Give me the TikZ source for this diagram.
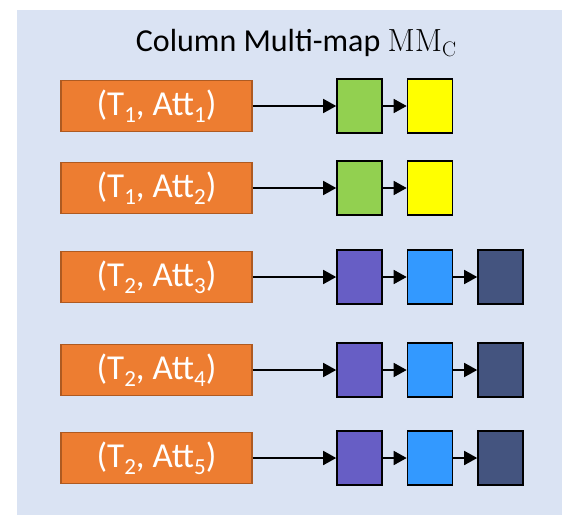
\documentclass[tikz,border=0pt]{standalone}
\usepackage{fontspec}
\setmainfont{Carlito}
\newfontfamily\lmfont{Latin Modern Roman}
\usetikzlibrary{arrows.meta}
\definecolor{panelbg}{HTML}{DAE3F3}
\definecolor{keyorange}{HTML}{ED7D31}
\definecolor{keyedge}{HTML}{AE5A21}
\definecolor{valgreen}{HTML}{92D050}
\definecolor{valyellow}{HTML}{FFFF00}
\definecolor{valpurple}{HTML}{675EC5}
\definecolor{valblue}{HTML}{3399FF}
\definecolor{valnavy}{HTML}{44547F}
\newcommand{\lowidx}[1]{\raisebox{-0.4ex}{\fontsize{23}{23}\selectfont #1}}
\tikzset{
  keybox/.style={draw=keyedge, line width=1.2pt, fill=keyorange, minimum width=191pt,
    minimum height=51pt, inner sep=0pt, text=white, font=\fontsize{35}{35}\selectfont},
  valbox/.style={draw=black, line width=1.6pt, minimum width=45pt, minimum height=54pt, inner sep=0pt},
  link/.style={line width=1.6pt, -{Triangle[length=13pt,width=14pt]}}
}
\begin{document}
\begin{tikzpicture}[x=1pt,y=-1pt]
\useasboundingbox (0,0) rectangle (562,515);
\fill[panelbg] (17,10) rectangle (562,515);
\node (title) at (296,43) {\fontsize{32}{32}\selectfont Column Multi-map {\lmfont MM\raisebox{-0.35ex}{\fontsize{21}{21}\selectfont C}}};

\node[keybox] (key1) at (156.5,106) {(T\lowidx{1}, Att\lowidx{1})};
\node[valbox, fill=valgreen] (v11) at (359.5,106){};
\node[valbox, fill=valyellow] (v12) at (430,106){};
\draw[link] (key1) -- (v11);
\draw[link] (v11) -- (v12);

\node[keybox] (key2) at (156.5,188) {(T\lowidx{1}, Att\lowidx{2})};
\node[valbox, fill=valgreen] (v21) at (359.5,188){};
\node[valbox, fill=valyellow] (v22) at (430,188){};
\draw[link] (key2) -- (v21);
\draw[link] (v21) -- (v22);

\node[keybox] (key3) at (156.5,277) {(T\lowidx{2}, Att\lowidx{3})};
\node[valbox, fill=valpurple] (v31) at (359.5,277){};
\node[valbox, fill=valblue] (v32) at (430,277){};
\node[valbox, fill=valnavy] (v33) at (500.5,277){};
\draw[link] (key3) -- (v31);
\draw[link] (v31) -- (v32);
\draw[link] (v32) -- (v33);

\node[keybox] (key4) at (156.5,370) {(T\lowidx{2}, Att\lowidx{4})};
\node[valbox, fill=valpurple] (v41) at (359.5,370){};
\node[valbox, fill=valblue] (v42) at (430,370){};
\node[valbox, fill=valnavy] (v43) at (500.5,370){};
\draw[link] (key4) -- (v41);
\draw[link] (v41) -- (v42);
\draw[link] (v42) -- (v43);

\node[keybox] (key5) at (156.5,458) {(T\lowidx{2}, Att\lowidx{5})};
\node[valbox, fill=valpurple] (v51) at (359.5,458){};
\node[valbox, fill=valblue] (v52) at (430,458){};
\node[valbox, fill=valnavy] (v53) at (500.5,458){};
\draw[link] (key5) -- (v51);
\draw[link] (v51) -- (v52);
\draw[link] (v52) -- (v53);

\end{tikzpicture}
\end{document}
